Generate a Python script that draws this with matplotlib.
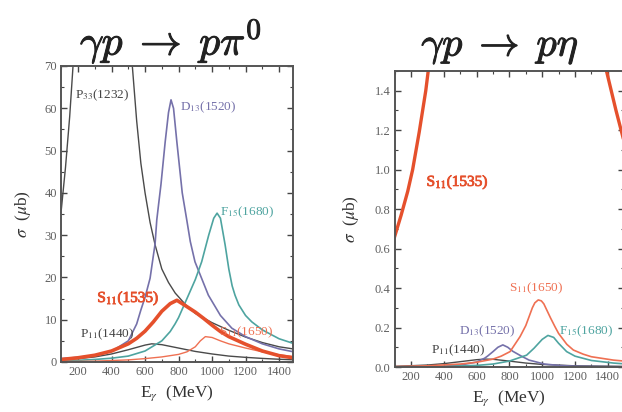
import matplotlib
matplotlib.use("Agg")
import matplotlib.pyplot as plt
import matplotlib.patheffects as pe
from matplotlib.ticker import MultipleLocator, FormatStrFormatter

plt.rcParams['font.family'] = ['Liberation Serif', 'DejaVu Serif']
plt.rcParams['mathtext.fontset'] = 'stix'

# colours of the resonance curves
GRAY = '#4a4a4a'
PURPLE = '#7571aa'
TEAL = '#4ea4a0'
RED = '#e5502c'
RED_THIN = '#ef7052'
TICKCOL = '#606060'

# ---- gamma p -> p pi0, sigma in micro-barn vs E_gamma in MeV ----
pi0_p33_E = [100, 125, 150, 170, 200, 250, 300, 340, 400, 450, 500, 524, 550, 575, 600,
             630, 660, 700, 740, 780, 850, 900, 1000, 1100, 1200, 1300, 1400, 1500]
pi0_p33_s = [36, 46, 58, 70, 95, 160, 230, 255, 200, 130, 88, 70, 57, 47, 40,
             33, 27.7, 22, 18.8, 16.3, 13.2, 11.5, 9.3, 7.5, 5.9, 4.6, 3.6, 3.0]

pi0_d13_E = [100, 200, 300, 400, 500, 550, 575, 600, 630, 660, 670, 680, 695, 720, 740, 755,
             770, 790, 822, 849, 870, 898, 978, 1050, 1118, 1200, 1300, 1400, 1500]
pi0_d13_s = [0.8, 1.1, 1.6, 2.5, 5.0, 9.0, 12.3, 15.3, 19.8, 28, 33.6, 37, 42, 52, 59, 62,
             60, 52, 40, 33.6, 28.5, 23.7, 15.8, 11, 8, 6, 4.3, 3.1, 2.3]

pi0_s1535_E = [100, 200, 300, 400, 500, 550, 600, 650, 700, 750, 790, 830, 900, 950,
               1000, 1050, 1100, 1200, 1300, 1400, 1500]
pi0_s1535_s = [0.6, 1.0, 1.6, 2.6, 4.3, 5.6, 7.3, 9.5, 12, 13.8, 14.6, 13.6, 11.8, 10.3,
               8.7, 7.2, 6.0, 4.2, 2.6, 1.5, 0.9]

pi0_f15_E = [100, 200, 300, 400, 500, 600, 700, 750, 779, 800, 859, 900, 938, 980, 1010,
             1030, 1050, 1078, 1100, 1120, 1137, 1160, 1200, 1237, 1300, 1400, 1500]
pi0_f15_s = [0.3, 0.4, 0.6, 0.9, 1.4, 2.6, 5.0, 7.2, 9.0, 10.5, 15.8, 19.5, 23.7, 30, 34,
             35.2, 34, 27.7, 22, 18, 15.8, 13.5, 11, 9.5, 7.6, 5.5, 4.2]

pi0_p11_E = [100, 200, 300, 400, 500, 600, 640, 700, 800, 900, 1000, 1100, 1200, 1300, 1400, 1500]
pi0_p11_s = [0.5, 0.8, 1.2, 1.9, 2.9, 4.0, 4.3, 4.1, 3.3, 2.5, 1.9, 1.4, 1.1, 0.85, 0.65, 0.5]

pi0_s1650_E = [100, 300, 500, 600, 700, 800, 850, 900, 930, 960, 1000, 1050, 1100, 1200, 1300, 1400, 1500]
pi0_s1650_s = [0.1, 0.2, 0.5, 0.8, 1.2, 1.8, 2.4, 3.6, 5.0, 6.0, 5.8, 5.0, 4.3, 3.3, 2.4, 1.7, 1.2]

# ---- gamma p -> p eta ----
eta_s1535_E = [100, 140, 180, 210, 250, 290, 305, 340, 400, 500, 600, 700, 750, 800,
               900, 1000, 1100, 1200, 1300, 1392, 1450, 1500]
eta_s1535_s = [0.66, 0.77, 0.89, 1.0, 1.19, 1.4, 1.5, 1.75, 2.4, 4.5, 7.5, 13, 16, 15,
               9, 5.5, 3.6, 2.5, 1.9, 1.5, 1.3, 1.14]

eta_s1650_E = [100, 300, 500, 600, 700, 750, 804, 865, 900, 940, 955, 976, 995, 1010, 1050, 1078,
               1100, 1150, 1190, 1250, 1300, 1434, 1500]
eta_s1650_s = [0.002, 0.006, 0.015, 0.024, 0.04, 0.055, 0.078, 0.154, 0.21, 0.30, 0.325, 0.34,
               0.335, 0.32, 0.25, 0.204, 0.17, 0.115, 0.086, 0.065, 0.052, 0.035, 0.03]

eta_f15_E = [100, 400, 600, 700, 800, 905, 950, 1000, 1035, 1070, 1100, 1149, 1200, 1300, 1434, 1500]
eta_f15_s = [0.001, 0.003, 0.008, 0.015, 0.03, 0.06, 0.095, 0.14, 0.16, 0.15, 0.12,
             0.078, 0.055, 0.033, 0.02, 0.016]

eta_d13_E = [100, 400, 500, 600, 650, 668, 700, 730, 760, 790, 820, 871, 920, 1013, 1100, 1200, 1500]
eta_d13_s = [0.001, 0.004, 0.01, 0.025, 0.045, 0.056, 0.078, 0.1, 0.112, 0.1, 0.08,
             0.056, 0.035, 0.015, 0.008, 0.004, 0.001]

eta_p11_E = [100, 300, 400, 500, 600, 650, 700, 800, 900, 1000, 1200, 1500]
eta_p11_s = [0.003, 0.01, 0.017, 0.027, 0.037, 0.04, 0.039, 0.03, 0.02, 0.013, 0.006, 0.003]


def style_axes(ax):
    ax.tick_params(which='both', direction='in', top=True, right=True,
                   colors='#444444', labelcolor=TICKCOL, labelsize=9, pad=3)
    ax.tick_params(which='major', length=4, width=1.0)
    ax.tick_params(which='minor', length=2, width=0.8)
    for sp in ax.spines.values():
        sp.set_color('#555555')
        sp.set_linewidth(1.4)
    ax.xaxis.set_major_locator(MultipleLocator(200))
    ax.xaxis.set_minor_locator(MultipleLocator(100))
    ax.set_xlabel(r'E$_\gamma$  (MeV)', fontsize=12.5, color='#333333', labelpad=4)


def label(ax, x, y, txt, col, size=9.5, bold=False):
    t = ax.text(x, y, txt, color=col, fontsize=size, ha='left', va='center')
    if bold:
        t.set_path_effects([pe.withStroke(linewidth=0.6, foreground=col)])
    return t


fig = plt.figure(figsize=(6.22, 4.12), dpi=100)

# ---------------- left panel ----------------
ax1 = fig.add_axes([61.3 / 622, 50 / 412, 232 / 622, 296 / 412])
ax1.plot(pi0_p33_E, pi0_p33_s, color=GRAY, lw=1.0)
ax1.plot(pi0_p11_E, pi0_p11_s, color=GRAY, lw=1.0)
ax1.plot(pi0_d13_E, pi0_d13_s, color=PURPLE, lw=1.2)
ax1.plot(pi0_f15_E, pi0_f15_s, color=TEAL, lw=1.2)
ax1.plot(pi0_s1650_E, pi0_s1650_s, color=RED_THIN, lw=1.0)
ax1.plot(pi0_s1535_E, pi0_s1535_s, color=RED, lw=2.6)
ax1.set_xlim(100, 1485)
ax1.set_ylim(0, 70)
ax1.yaxis.set_major_locator(MultipleLocator(10))
ax1.yaxis.set_minor_locator(MultipleLocator(5))
style_axes(ax1)
ax1.set_ylabel(r'$\sigma$  ($\mu$b)', fontsize=12.5, color='#333333', labelpad=8)

label(ax1, 180, 63.0, r'P$_{33}$(1232)', '#444444')
label(ax1, 810, 60.3, r'D$_{13}$(1520)', PURPLE)
label(ax1, 1045, 35.3, r'F$_{15}$(1680)', TEAL)
label(ax1, 315, 15.0, r'S$_{11}$(1535)', RED, size=11, bold=True)
label(ax1, 210, 6.5, r'P$_{11}$(1440)', '#444444')
label(ax1, 1040, 7.1, r'S$_{11}$(1650)', RED_THIN)

# ---------------- right panel ----------------
ax2 = fig.add_axes([394.6 / 622, 45 / 412, 229.6 / 622, 296 / 412])
ax2.plot(eta_p11_E, eta_p11_s, color=GRAY, lw=1.0)
ax2.plot(eta_d13_E, eta_d13_s, color=PURPLE, lw=1.2)
ax2.plot(eta_f15_E, eta_f15_s, color=TEAL, lw=1.2)
ax2.plot(eta_s1650_E, eta_s1650_s, color=RED_THIN, lw=1.2)
ax2.plot(eta_s1535_E, eta_s1535_s, color=RED, lw=2.4)
ax2.set_xlim(100, 1500)
ax2.set_ylim(0, 1.5)
ax2.yaxis.set_major_locator(MultipleLocator(0.2))
ax2.yaxis.set_minor_locator(MultipleLocator(0.1))
ax2.yaxis.set_major_formatter(FormatStrFormatter('%.1f'))
style_axes(ax2)
ax2.set_ylabel(r'$\sigma$  ($\mu$b)', fontsize=12.5, color='#333333', labelpad=10)

label(ax2, 295, 0.935, r'S$_{11}$(1535)', RED, size=11, bold=True)
label(ax2, 795, 0.40, r'S$_{11}$(1650)', RED_THIN)
label(ax2, 490, 0.18, r'D$_{13}$(1520)', PURPLE)
label(ax2, 1100, 0.18, r'F$_{15}$(1680)', TEAL)
label(ax2, 320, 0.085, r'P$_{11}$(1440)', '#444444')

# reaction titles
for x, y, txt, size in [(171, 41, r'$\gamma p\;\rightarrow\;p\pi^0$', 30),
                        (500, 48, r'$\gamma p\;\rightarrow\;p\eta$', 29)]:
    t = fig.text(x / 622, 1 - y / 412, txt, fontsize=size, ha='center', va='center',
                 math_fontfamily='cm', color='#222222')
    t.set_path_effects([pe.withStroke(linewidth=0.7, foreground='#222222')])

fig.savefig('out.png', dpi=100)
